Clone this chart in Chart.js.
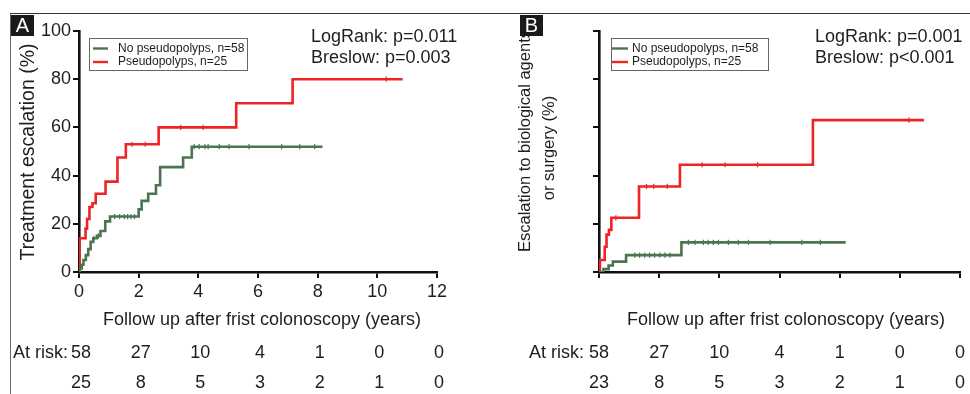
<!DOCTYPE html>
<html><head><meta charset="utf-8">
<script src="https://cdn.jsdelivr.net/npm/chart.js@4.4.1/dist/chart.umd.min.js"></script>
<style>
html,body{margin:0;padding:0;background:#fff;}
#wrap{position:relative;width:970px;height:394px;overflow:hidden;background:#fff;}
#frame{position:absolute;left:10px;top:13px;width:980px;height:400px;border-top:1.5px solid #333;border-left:1.5px solid #666;}
canvas{position:absolute;top:0;}
</style></head><body>
<div id="wrap"><div id="frame"></div>
<canvas id="cA" width="485" height="394" style="left:0px"></canvas>
<canvas id="cB" width="485" height="394" style="left:485px"></canvas>
</div>
<script>
// ---------- DATA ----------
const seriesLabels = ['No pseudopolyps, n=58', 'Pseudopolyps, n=25'];
const xTickValues = [0, 2, 4, 6, 8, 10, 12];

// Panel A: treatment escalation (%)
const timesA_no = [0, 0.03, 0.09, 0.15, 0.23, 0.31, 0.39, 0.48, 0.6, 0.72, 0.88, 1.04, 2.0, 2.1, 2.32, 2.58, 2.72, 3.49, 3.78, 8.16];
const escA_no   = [0, 1.5, 3, 5, 7, 9.5, 12.5, 14, 15, 17, 21, 23, 26, 29.5, 32.5, 36, 43.5, 47.5, 52, 52];
const timesA_pp = [0, 0.02, 0.22, 0.27, 0.35, 0.45, 0.56, 0.89, 1.29, 1.57, 2.67, 5.27, 7.16, 10.85];
const escA_pp   = [0, 14, 18, 22, 27, 28.5, 32.5, 37.5, 47.5, 53, 60, 70, 80, 80];
const censA_no  = [0.5, 0.65, 1.19, 1.36, 1.52, 1.63, 1.74, 1.86, 3.86, 4.03, 4.22, 4.33, 4.7, 5.03, 5.7, 6.79, 7.4, 7.9];
const censA_pp  = [1.78, 2.22, 3.41, 4.16, 10.3];
const atRiskA_no = [58, 27, 10, 4, 1, 0, 0];
const atRiskA_pp = [25, 8, 5, 3, 2, 1, 0];
const pValuesA = ['LogRank: p=0.011', 'Breslow: p=0.003'];

// Panel B: escalation to biological agents or surgery (%)
const timesB_no = [0, 0.15, 0.32, 0.46, 0.9, 2.74, 8.2];
const escB_no   = [0, 1.2, 2.7, 4.3, 7, 12.3, 12.3];
const timesB_pp = [0, 0.03, 0.19, 0.25, 0.33, 0.41, 1.33, 2.69, 7.11, 10.8];
const escB_pp   = [0, 5, 10.5, 15.5, 17.5, 22.5, 35.5, 44.5, 63, 63];
const censB_no  = [1.19, 1.35, 1.52, 1.68, 1.85, 2.02, 2.19, 2.36, 2.97, 3.19, 3.47, 3.63, 3.8, 3.97, 4.3, 4.63, 4.97, 5.69, 6.74, 7.36];
const censB_pp  = [0.56, 1.58, 1.82, 2.27, 3.43, 4.19, 5.27, 10.3];
const atRiskB_no = [58, 27, 10, 4, 1, 0, 0];
const atRiskB_pp = [23, 8, 5, 3, 2, 1, 0];
const pValuesB = ['LogRank: p=0.001', 'Breslow: p<0.001'];

// ---------- STYLE ----------
const FONT = "'Liberation Sans', Arial, Helvetica, sans-serif";
const GREEN = '#4a7550';
const RED = '#ee2326';
const TXT = '#1e1e1e';

function levelAt(t, v, x) {
  let y = v[0];
  for (let i = 0; i < t.length; i++) { if (t[i] <= x) y = v[i]; }
  return y;
}
function curve(label, t, v, color) {
  return { label, data: t.map((x, i) => ({ x, y: v[i] })), borderColor: color, backgroundColor: color,
    borderWidth: 2.6, stepped: true, pointRadius: 0, fill: false, tension: 0, order: 2 };
}
function cens(times, t, v, color) {
  return { label: '', data: times.map(x => ({ x, y: levelAt(t, v, x) })), showLine: false,
    pointStyle: 'line', rotation: 90, pointRadius: 2.6, borderColor: color, borderWidth: 1.2, order: 1 };
}

function panelPlugin(cfg) {
  return {
    id: 'panel' + cfg.letter,
    afterDraw(chart) {
      const ctx = chart.ctx, xs = chart.scales.x;
      ctx.save();
      // y title
      ctx.fillStyle = TXT; ctx.textAlign = 'center'; ctx.textBaseline = 'middle';
      cfg.yTitle.forEach(l => {
        ctx.save(); ctx.translate(l.x, l.y); ctx.rotate(-Math.PI / 2);
        ctx.font = l.size + 'px ' + FONT; ctx.fillText(l.text, 0, 0); ctx.restore();
      });
      // letter box
      ctx.fillStyle = '#1a1a1a'; ctx.fillRect(cfg.boxX, 15, 23, 21);
      ctx.fillStyle = '#fff'; ctx.font = '20px ' + FONT; ctx.textAlign = 'center'; ctx.textBaseline = 'middle';
      ctx.fillText(cfg.letter, cfg.boxX + 11.5, 26.5);
      // legend
      const lg = cfg.legend;
      ctx.fillStyle = '#fff'; ctx.fillRect(lg.x, lg.y, lg.w, lg.h);
      ctx.strokeStyle = '#666'; ctx.lineWidth = 1; ctx.strokeRect(lg.x, lg.y, lg.w, lg.h);
      ctx.font = '12px ' + FONT; ctx.textAlign = 'left'; ctx.textBaseline = 'middle';
      [0, 1].forEach(i => {
        const ds = chart.data.datasets[i];
        ctx.strokeStyle = ds.borderColor; ctx.lineWidth = 2.4;
        ctx.beginPath(); ctx.moveTo(lg.l0, lg.rows[i]); ctx.lineTo(lg.l1, lg.rows[i]); ctx.stroke();
        ctx.fillStyle = TXT; ctx.fillText(ds.label, lg.tx, lg.rows[i]);
      });
      // p-values
      ctx.font = '18px ' + FONT; ctx.fillStyle = TXT;
      cfg.pvals.forEach((p, i) => ctx.fillText(p, cfg.pX, [37, 58][i]));
      // x title
      ctx.textAlign = 'center';
      ctx.fillText('Follow up after frist colonoscopy (years)', cfg.xTitleX, 320);
      // at risk table
      ctx.textAlign = 'right';
      ctx.fillText('At risk:', cfg.riskLabelX, 353);
      ctx.textAlign = 'center';
      cfg.risk.forEach((row, r) => {
        row.forEach((n, i) => ctx.fillText(String(n), xs.getPixelForValue(xTickValues[i]) + cfg.riskOff, [353, 383][r]));
      });
      ctx.restore();
    }
  };
}

function makeChart(id, cfg) {
  const axisCommon = (show) => ({
    grid: { display: true, drawOnChartArea: false, drawTicks: true, tickLength: 6, color: '#111', lineWidth: 2 },
    border: { display: true, color: '#111', width: 2.6 },
    ticks: { display: show, font: { size: 18, family: FONT }, color: TXT, padding: 2, maxRotation: 0, autoSkip: false }
  });
  const xAxis = axisCommon(cfg.showLabels);
  Object.assign(xAxis, { type: 'linear', min: 0, max: 12, afterFit(s) { s.height = 122; } });
  xAxis.ticks.stepSize = 2; xAxis.ticks.padding = 3;
  const yAxis = axisCommon(cfg.showLabels);
  Object.assign(yAxis, { type: 'linear', min: 0, max: 100, afterFit(s) { s.width = cfg.yAxisW; } });
  yAxis.ticks.stepSize = 20;
  return new Chart(document.getElementById(id), {
    type: 'line',
    data: { datasets: [
      curve(seriesLabels[0], cfg.tNo, cfg.vNo, GREEN),
      curve(seriesLabels[1], cfg.tPp, cfg.vPp, RED),
      cens(cfg.cNo, cfg.tNo, cfg.vNo, GREEN),
      cens(cfg.cPp, cfg.tPp, cfg.vPp, RED)
    ] },
    options: {
      responsive: false, animation: false, devicePixelRatio: 1,
      layout: { padding: { left: 0, right: cfg.padR, top: 31, bottom: 0 } },
      plugins: { legend: { display: false }, tooltip: { enabled: false } },
      scales: { x: xAxis, y: yAxis }
    },
    plugins: [panelPlugin(cfg)]
  });
}

makeChart('cA', {
  letter: 'A', boxX: 11, showLabels: true, yAxisW: 79, padR: 48,
  tNo: timesA_no, vNo: escA_no, tPp: timesA_pp, vPp: escA_pp, cNo: censA_no, cPp: censA_pp,
  legend: { x: 89.5, y: 38.5, w: 158, h: 32, l0: 93, l1: 108, tx: 118, rows: [48.5, 62] },
  pvals: pValuesA, pX: 311, xTitleX: 262, riskLabelX: 68, riskOff: 2,
  risk: [atRiskA_no, atRiskA_pp],
  yTitle: [{ text: 'Treatment escalation (%)', x: 28.5, y: 152, size: 19.5 }]
});
makeChart('cB', {
  letter: 'B', boxX: 35, showLabels: false, yAxisW: 114, padR: 10,
  tNo: timesB_no, vNo: escB_no, tPp: timesB_pp, vPp: escB_pp, cNo: censB_no, cPp: censB_pp,
  legend: { x: 126.5, y: 38.5, w: 157, h: 32, l0: 127, l1: 143, tx: 147, rows: [48.5, 62] },
  pvals: pValuesB, pX: 330, xTitleX: 301, riskLabelX: 99, riskOff: 0,
  risk: [atRiskB_no, atRiskB_pp],
  yTitle: [{ text: 'Escalation to biological agents', x: 40, y: 141, size: 16.5 },
           { text: 'or surgery (%)', x: 64, y: 148, size: 16.5 }]
});
</script>
</body></html>
